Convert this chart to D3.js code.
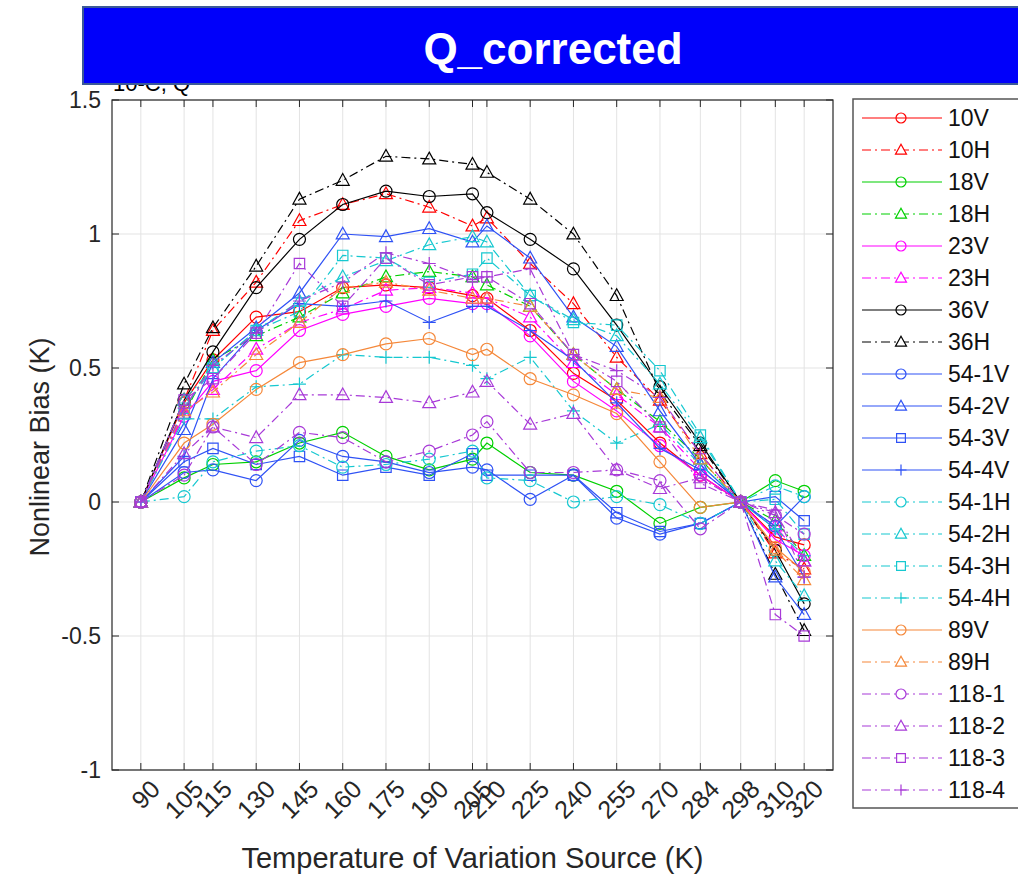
<!DOCTYPE html>
<html>
<head>
<meta charset="utf-8">
<script src="https://cdn.jsdelivr.net/npm/d3@7"></script>
<style>
  html, body { margin: 0; padding: 0; background: #fff; }
  svg { display: block; font-family: "Liberation Sans", Arial, sans-serif; }
</style>
</head>
<body>
<svg id="chart" width="1018" height="876"></svg>
<script>
// temperatures of the variation source (x ticks)
const temps = [90, 105, 115, 130, 145, 160, 175, 190, 205, 210, 225, 240, 255, 270, 284, 298, 310, 320];
const yTicks = [-1, -0.5, 0, 0.5, 1, 1.5];

// nonlinear bias per channel (K)
const v10V   = [0, 0.37, 0.53, 0.69, 0.71, 0.80, 0.81, 0.80, 0.77, 0.76, 0.64, 0.48, 0.38, 0.22, 0.10, 0, -0.13, -0.16];
const v10H   = [0, 0.38, 0.64, 0.82, 1.05, 1.11, 1.15, 1.10, 1.03, 1.06, 0.89, 0.74, 0.54, 0.38, 0.18, 0, -0.19, -0.25];
const v18V   = [0, 0.09, 0.14, 0.15, 0.22, 0.26, 0.17, 0.12, 0.16, 0.22, 0.11, 0.10, 0.04, -0.08, -0.02, 0, 0.08, 0.04];
const v18H   = [0, 0.33, 0.53, 0.62, 0.69, 0.78, 0.84, 0.86, 0.84, 0.81, 0.73, 0.55, 0.42, 0.30, 0.16, 0, -0.07, -0.20];
const v23V   = [0, 0.32, 0.45, 0.49, 0.64, 0.70, 0.73, 0.76, 0.74, 0.74, 0.62, 0.45, 0.34, 0.21, 0.10, 0, -0.14, -0.20];
const v23H   = [0, 0.33, 0.42, 0.57, 0.67, 0.72, 0.79, 0.80, 0.78, 0.76, 0.69, 0.52, 0.40, 0.28, 0.12, 0, -0.09, -0.22];
const v36V   = [0, 0.38, 0.56, 0.80, 0.98, 1.11, 1.16, 1.14, 1.15, 1.08, 0.98, 0.87, 0.66, 0.43, 0.22, 0, -0.18, -0.38];
const v36H   = [0, 0.44, 0.65, 0.88, 1.13, 1.20, 1.29, 1.28, 1.26, 1.23, 1.13, 1.00, 0.77, 0.41, 0.21, 0, -0.27, -0.48];
const v54_1V = [0, 0.11, 0.12, 0.08, 0.23, 0.17, 0.15, 0.11, 0.13, 0.12, 0.01, 0.10, -0.06, -0.12, -0.08, 0, -0.09, 0.02];
const v54_2V = [0, 0.27, 0.52, 0.65, 0.78, 1.00, 0.99, 1.02, 0.97, 1.03, 0.91, 0.69, 0.58, 0.34, 0.14, 0, -0.28, -0.42];
const v54_3V = [0, 0.15, 0.20, 0.14, 0.17, 0.10, 0.13, 0.10, 0.18, 0.10, 0.10, 0.10, -0.04, -0.11, -0.08, 0, 0.02, -0.07];
const v54_4V = [0, 0.17, 0.46, 0.64, 0.74, 0.73, 0.75, 0.67, 0.73, 0.73, 0.64, 0.53, 0.37, 0.20, 0.12, 0, -0.10, -0.28];
const v54_1H = [0, 0.02, 0.15, 0.19, 0.21, 0.13, 0.14, 0.16, 0.19, 0.09, 0.08, 0.00, 0.02, -0.01, -0.08, 0, 0.06, 0.02];
const v54_2H = [0, 0.38, 0.50, 0.64, 0.75, 0.84, 0.90, 0.96, 0.99, 0.97, 0.77, 0.68, 0.62, 0.44, 0.24, 0, -0.22, -0.35];
const v54_3H = [0, 0.35, 0.50, 0.64, 0.71, 0.92, 0.91, 0.82, 0.85, 0.91, 0.77, 0.67, 0.66, 0.49, 0.25, 0, 0.01, -0.12];
const v54_4H = [0, 0.31, 0.31, 0.43, 0.44, 0.55, 0.54, 0.54, 0.51, 0.46, 0.54, 0.34, 0.22, 0.29, 0.14, 0, -0.10, -0.20];
const v89V   = [0, 0.22, 0.29, 0.42, 0.52, 0.55, 0.59, 0.61, 0.55, 0.57, 0.46, 0.40, 0.33, 0.15, -0.02, 0, -0.17, -0.26];
const v89H   = [0, 0.34, 0.41, 0.55, 0.67, 0.80, 0.82, 0.79, 0.76, 0.76, 0.73, 0.55, 0.42, 0.39, 0.16, 0, -0.18, -0.29];
const v118_1 = [0, 0.10, 0.28, 0.14, 0.26, 0.24, 0.15, 0.19, 0.25, 0.30, 0.11, 0.11, 0.12, 0.08, -0.10, 0, -0.05, -0.12];
const v118_2 = [0, 0.18, 0.28, 0.24, 0.40, 0.40, 0.39, 0.37, 0.41, 0.45, 0.29, 0.33, 0.12, 0.05, 0.09, 0, -0.04, -0.22];
const v118_3 = [0, 0.38, 0.46, 0.63, 0.89, 0.73, 0.91, 0.81, 0.84, 0.84, 0.74, 0.55, 0.45, 0.28, 0.07, 0, -0.42, -0.50];
const v118_4 = [0, 0.35, 0.51, 0.63, 0.75, 0.82, 0.93, 0.89, 0.83, 0.84, 0.87, 0.55, 0.49, 0.39, 0.18, 0, -0.03, -0.28];

const RED = "#ff0000", GREEN = "#00d000", MAG = "#ff00ff", BLK = "#000000",
      BLUE = "#2f52f5", CYAN = "#16c8d0", ORANGE = "#f5883a", PURPLE = "#a83ad8";

const series = [
    { name: "10V",   values: v10V,   color: RED,    dash: false, marker: "o" },
    { name: "10H",   values: v10H,   color: RED,    dash: true,  marker: "^" },
    { name: "18V",   values: v18V,   color: GREEN,  dash: false, marker: "o" },
    { name: "18H",   values: v18H,   color: GREEN,  dash: true,  marker: "^" },
    { name: "23V",   values: v23V,   color: MAG,    dash: false, marker: "o" },
    { name: "23H",   values: v23H,   color: MAG,    dash: true,  marker: "^" },
    { name: "36V",   values: v36V,   color: BLK,    dash: false, marker: "o" },
    { name: "36H",   values: v36H,   color: BLK,    dash: true,  marker: "^" },
    { name: "54-1V", values: v54_1V, color: BLUE,   dash: false, marker: "o" },
    { name: "54-2V", values: v54_2V, color: BLUE,   dash: false, marker: "^" },
    { name: "54-3V", values: v54_3V, color: BLUE,   dash: false, marker: "s" },
    { name: "54-4V", values: v54_4V, color: BLUE,   dash: false, marker: "+" },
    { name: "54-1H", values: v54_1H, color: CYAN,   dash: true,  marker: "o" },
    { name: "54-2H", values: v54_2H, color: CYAN,   dash: true,  marker: "^" },
    { name: "54-3H", values: v54_3H, color: CYAN,   dash: true,  marker: "s" },
    { name: "54-4H", values: v54_4H, color: CYAN,   dash: true,  marker: "+" },
    { name: "89V",   values: v89V,   color: ORANGE, dash: false, marker: "o" },
    { name: "89H",   values: v89H,   color: ORANGE, dash: true,  marker: "^" },
    { name: "118-1", values: v118_1, color: PURPLE, dash: true,  marker: "o" },
    { name: "118-2", values: v118_2, color: PURPLE, dash: true,  marker: "^" },
    { name: "118-3", values: v118_3, color: PURPLE, dash: true,  marker: "s" },
    { name: "118-4", values: v118_4, color: PURPLE, dash: true,  marker: "+" }
];

const svg = d3.select("#chart");
const plot = { left: 112, right: 833, top: 100, bottom: 770 };
const axisColor = "#262626";
const DASH = "9,4,2,4";

const x = d3.scaleLinear().domain([80, 330]).range([plot.left, plot.right]);
const y = d3.scaleLinear().domain([-1, 1.5]).range([plot.bottom, plot.top]);

// marker path builders, k = size
const markerPath = (m, k) => {
    if (m === "o") return `M${k},0A${k},${k} 0 1,1 ${-k},0A${k},${k} 0 1,1 ${k},0Z`;
    if (m === "^") return `M0,${-k * 1.05}L${k * 1.0},${k * 0.75}L${-k * 1.0},${k * 0.75}Z`;
    if (m === "s") return `M${-k * 0.8},${-k * 0.8}H${k * 0.8}V${k * 0.8}H${-k * 0.8}Z`;
    return `M${-k},0H${k}M0,${-k}V${k}`;
};

// hidden sub-title peeking out under the banner
svg.append("text")
    .attr("x", 113).attr("y", 91)
    .attr("font-size", 22).attr("fill", "#000")
    .text("10-C, Q");

// grid
const grid = svg.append("g");
grid.selectAll(".gx").data(temps).enter().append("line")
    .attr("x1", d => x(d)).attr("x2", d => x(d))
    .attr("y1", plot.top).attr("y2", plot.bottom)
    .attr("stroke", "#e3e3e3").attr("stroke-width", 1);
grid.selectAll(".gy").data(yTicks).enter().append("line")
    .attr("x1", plot.left).attr("x2", plot.right)
    .attr("y1", d => y(d)).attr("y2", d => y(d))
    .attr("stroke", "#e3e3e3").attr("stroke-width", 1);

// series
const line = d3.line().x((d, i) => x(temps[i])).y(d => y(d));
const gSeries = svg.append("g");
series.forEach(s => {
    gSeries.append("path")
        .attr("d", line(s.values))
        .attr("fill", "none")
        .attr("stroke", s.color)
        .attr("stroke-width", 1.2)
        .attr("stroke-dasharray", s.dash ? DASH : null);
    gSeries.selectAll(null).data(s.values).enter().append("path")
        .attr("transform", (d, i) => `translate(${x(temps[i])},${y(d)})`)
        .attr("d", markerPath(s.marker, s.marker === "o" ? 6 : 6.5))
        .attr("fill", "none")
        .attr("stroke", s.color)
        .attr("stroke-width", 1.2);
});

// axes box and ticks (inside, all four sides)
const ax = svg.append("g");
ax.append("rect")
    .attr("x", plot.left).attr("y", plot.top)
    .attr("width", plot.right - plot.left).attr("height", plot.bottom - plot.top)
    .attr("fill", "none").attr("stroke", axisColor).attr("stroke-width", 1.2);

const tl = 7;
temps.forEach(t => {
    ax.append("line").attr("x1", x(t)).attr("x2", x(t)).attr("y1", plot.bottom).attr("y2", plot.bottom - tl)
        .attr("stroke", axisColor);
    ax.append("line").attr("x1", x(t)).attr("x2", x(t)).attr("y1", plot.top).attr("y2", plot.top + tl)
        .attr("stroke", axisColor);
});
yTicks.forEach(v => {
    ax.append("line").attr("x1", plot.left).attr("x2", plot.left + tl).attr("y1", y(v)).attr("y2", y(v))
        .attr("stroke", axisColor);
    ax.append("line").attr("x1", plot.right).attr("x2", plot.right - tl).attr("y1", y(v)).attr("y2", y(v))
        .attr("stroke", axisColor);
});

// tick labels
ax.selectAll(".ytl").data(yTicks).enter().append("text")
    .attr("x", plot.left - 11).attr("y", d => y(d))
    .attr("dy", "0.35em")
    .attr("text-anchor", "end")
    .attr("font-size", 23).attr("fill", axisColor)
    .text(d => String(d));

ax.selectAll(".xtl").data(temps).enter().append("text")
    .attr("transform", d => `translate(${x(d) + 8},${plot.bottom + 8}) rotate(-45)`)
    .attr("dy", "0.72em")
    .attr("text-anchor", "end")
    .attr("font-size", 25).attr("fill", axisColor)
    .text(d => d);

// axis titles
svg.append("text")
    .attr("x", (plot.left + plot.right) / 2).attr("y", 868)
    .attr("text-anchor", "middle")
    .attr("font-size", 29).attr("fill", axisColor)
    .text("Temperature of Variation Source (K)");

svg.append("text")
    .attr("transform", `translate(49,447) rotate(-90)`)
    .attr("text-anchor", "middle")
    .attr("font-size", 27).attr("fill", axisColor)
    .text("Nonlinear Bias (K)");

// legend
const leg = svg.append("g");
leg.append("rect")
    .attr("x", 853).attr("y", 99).attr("width", 200).attr("height", 709)
    .attr("fill", "#fff").attr("stroke", "#555").attr("stroke-width", 1.5);
series.forEach((s, i) => {
    const ly = 118 + 32 * i;
    leg.append("line")
        .attr("x1", 862).attr("x2", 942).attr("y1", ly).attr("y2", ly)
        .attr("stroke", s.color).attr("stroke-width", 1.2)
        .attr("stroke-dasharray", s.dash ? DASH : null);
    leg.append("path")
        .attr("transform", `translate(901,${ly})`)
        .attr("d", markerPath(s.marker, s.marker === "o" ? 5 : 5.5))
        .attr("fill", s.dash ? "#fff" : "none")
        .attr("stroke", s.color).attr("stroke-width", 1.2);
    leg.append("text")
        .attr("x", 948).attr("y", ly).attr("dy", "0.36em")
        .attr("font-size", 23).attr("fill", "#111")
        .text(s.name);
});

// title banner
svg.append("rect")
    .attr("x", 83).attr("y", 7).attr("width", 960).attr("height", 77)
    .attr("fill", "#0000fa").attr("stroke", "#3b5998").attr("stroke-width", 2);
svg.append("text")
    .attr("x", 553).attr("y", 64)
    .attr("text-anchor", "middle")
    .attr("font-size", 44).attr("font-weight", "bold").attr("fill", "#fff")
    .text("Q_corrected");
</script>
</body>
</html>
